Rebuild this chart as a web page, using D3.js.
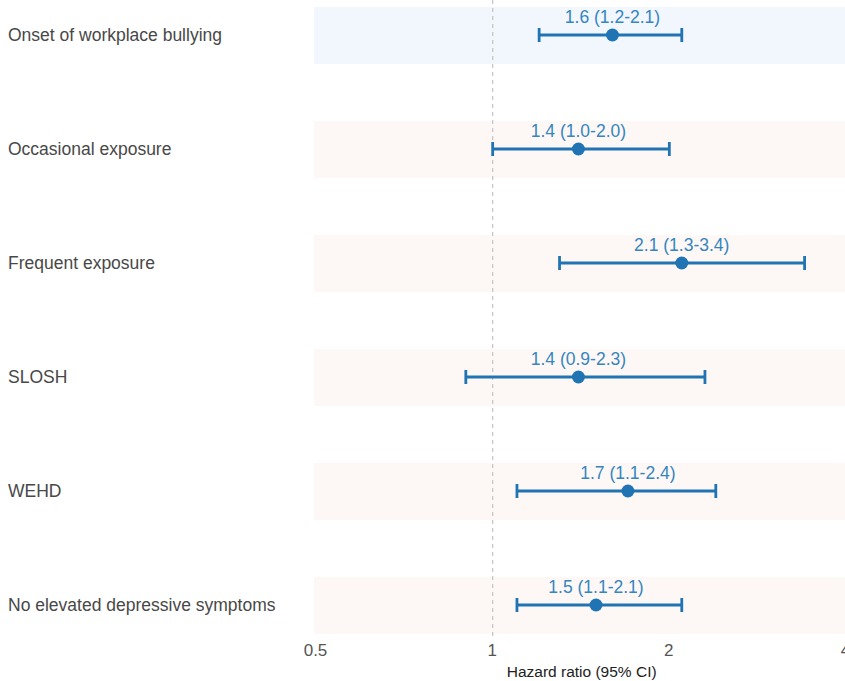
<!DOCTYPE html>
<html>
<head>
<meta charset="utf-8">
<script src="https://cdn.jsdelivr.net/npm/d3@7"></script>
<style>
  html, body { margin: 0; padding: 0; background: #fff; }
  svg { display: block; font-family: "Liberation Sans", Arial, sans-serif; }
</style>
</head>
<body>
<svg id="chart" width="845" height="681"></svg>
<script>
// Forest plot data: hazard ratios with 95% confidence intervals
const categories = [
  "Onset of workplace bullying",
  "Occasional exposure",
  "Frequent exposure",
  "SLOSH",
  "WEHD",
  "No elevated depressive symptoms"
];
const hr    = [1.6, 1.4, 2.1, 1.4, 1.7, 1.5];
const lower = [1.2, 1.0, 1.3, 0.9, 1.1, 1.1];
const upper = [2.1, 2.0, 3.4, 2.3, 2.4, 2.1];
const labels = ["1.6 (1.2-2.1)", "1.4 (1.0-2.0)", "2.1 (1.3-3.4)", "1.4 (0.9-2.3)", "1.7 (1.1-2.4)", "1.5 (1.1-2.1)"];
const tickValues = [0.5, 1, 2, 4];
const tickLabels = ["0.5", "1", "2", "4"];

const svg = d3.select("#chart");
const plotLeft = 315, plotRight = 845;

const x = d3.scaleLog().domain([0.5, 4]).range([plotLeft, plotRight]);
// row centres, one per category
const y = d3.scalePoint().domain(categories).range([35, 605]);

// row backgrounds
svg.append("g").selectAll("rect")
  .data(categories)
  .join("rect")
  .attr("x", plotLeft - 1)
  .attr("width", plotRight - plotLeft + 1)
  .attr("y", d => y(d) - 28)
  .attr("height", 57)
  .attr("fill", (d, i) => i === 0 ? "#f1f7fd" : "#fdf8f5");

// reference line at HR = 1
svg.append("line")
  .attr("x1", x(1) + 1).attr("x2", x(1) + 1)
  .attr("y1", 0).attr("y2", 640)
  .attr("stroke", "#c8c8c8")
  .attr("stroke-width", 1.3)
  .attr("stroke-dasharray", "4,4");

// category labels
svg.append("g").selectAll("text")
  .data(categories)
  .join("text")
  .attr("x", 8)
  .attr("y", d => y(d) + 1.5)
  .attr("dominant-baseline", "middle")
  .attr("font-size", 17.5)
  .attr("fill", "#484848")
  .text(d => d);

const rows = svg.append("g").selectAll("g")
  .data(categories.map((c, i) => ({c, i})))
  .join("g")
  .attr("transform", d => `translate(1,${y(d.c)})`);

const blue = "#2074b4";
rows.append("line")
  .attr("x1", d => x(lower[d.i])).attr("x2", d => x(upper[d.i]))
  .attr("y1", 0).attr("y2", 0)
  .attr("stroke", blue).attr("stroke-width", 2.8);
rows.append("line")
  .attr("x1", d => x(lower[d.i])).attr("x2", d => x(lower[d.i]))
  .attr("y1", -7).attr("y2", 7)
  .attr("stroke", blue).attr("stroke-width", 2.8);
rows.append("line")
  .attr("x1", d => x(upper[d.i])).attr("x2", d => x(upper[d.i]))
  .attr("y1", -7).attr("y2", 7)
  .attr("stroke", blue).attr("stroke-width", 2.8);
rows.append("circle")
  .attr("cx", d => x(hr[d.i]))
  .attr("r", 6.5)
  .attr("fill", blue);
rows.append("text")
  .attr("x", d => x(hr[d.i]))
  .attr("y", -12)
  .attr("text-anchor", "middle")
  .attr("font-size", 17.5)
  .attr("fill", "#3585c1")
  .text(d => labels[d.i]);

// x axis (labels only)
const axis = d3.axisBottom(x)
  .tickValues(tickValues)
  .tickFormat((d, i) => tickLabels[i])
  .tickSize(0)
  .tickPadding(0);
const ax = svg.append("g").attr("transform", "translate(0,644)").call(axis);
ax.select(".domain").remove();
ax.selectAll("text")
  .attr("font-size", 17)
  .attr("fill", "#555")
  .attr("font-family", "Liberation Sans, Arial, sans-serif")
  .attr("dy", "0.71em");

svg.append("text")
  .attr("x", x(1) + 90)
  .attr("y", 677)
  .attr("text-anchor", "middle")
  .attr("font-size", 15.5)
  .attr("fill", "#222")
  .text("Hazard ratio (95% CI)");
</script>
</body>
</html>
